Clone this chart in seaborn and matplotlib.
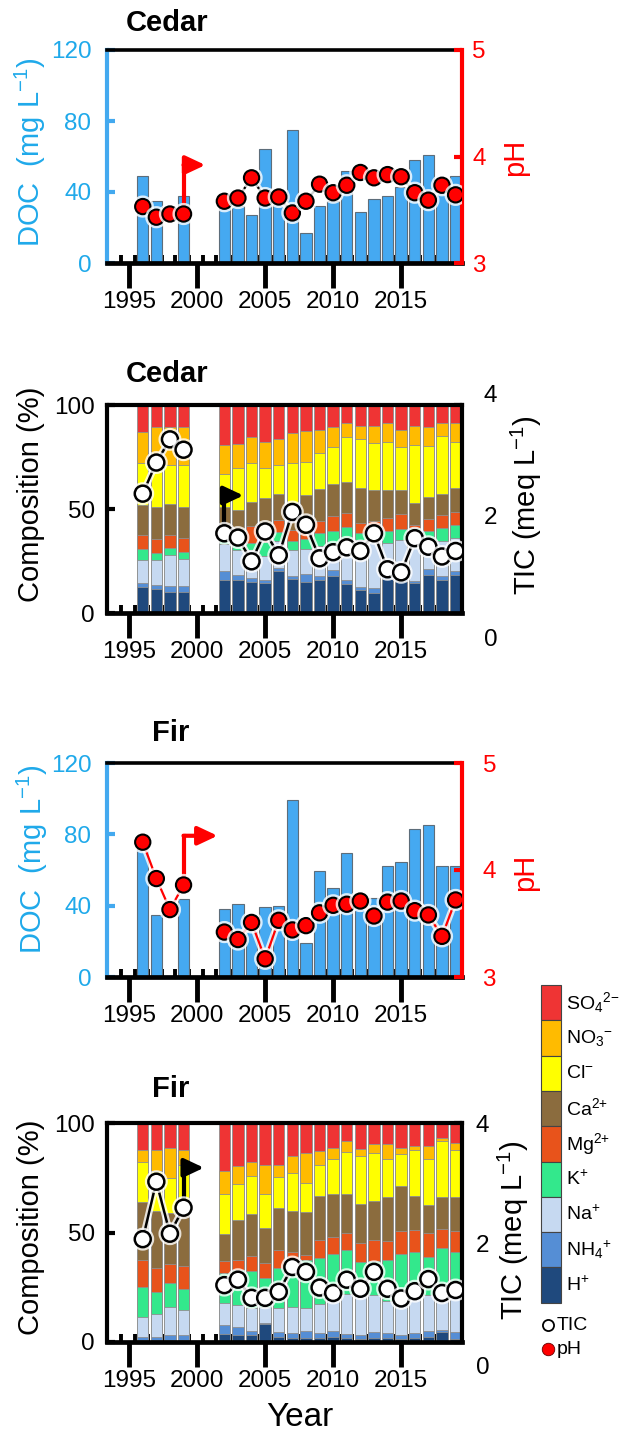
import numpy as np
import pandas as pd
import matplotlib
matplotlib.use("Agg")
import matplotlib.pyplot as plt
import matplotlib.patheffects as pe
from matplotlib.patches import Rectangle
import seaborn as sns

# ---------------- data ----------------
YEARS = [1996, 1997, 1998, 1999, 2002, 2003, 2004, 2005, 2006, 2007, 2008,
         2009, 2010, 2011, 2012, 2013, 2014, 2015, 2016, 2017, 2018, 2019]
XTICKS = [1995, 2000, 2005, 2010, 2015]

CEDAR_DOC = [49, 35, np.nan, 38, 31, 32, 27, 64, 37, 75, 17, 32, 35, 52, 29,
             36, 38, 43, 58, 61, 44, 49]
CEDAR_PH = [3.53, 3.43, 3.46, 3.46, 3.58, 3.61, 3.80, 3.61, 3.62, 3.47, 3.58,
            3.74, 3.66, 3.73, 3.85, 3.80, 3.83, 3.81, 3.66, 3.59, 3.73, 3.64]
FIR_DOC = [72, 35, np.nan, 43.5, 38, 41, 31, 39, 40, 99, 19.3, 59.3, 50, 69.5,
           43, 44.5, 62.5, 64.5, 83, 85, 62, 62.5]
FIR_PH = [4.26, 3.92, 3.63, 3.86, 3.42, 3.35, 3.51, 3.17, 3.53, 3.44, 3.48,
          3.60, 3.67, 3.68, 3.71, 3.57, 3.70, 3.71, 3.62, 3.58, 3.38, 3.72]

CEDAR_TIC = [2.35, 2.86, 3.24, 3.07, 1.70, 1.63, 1.24, 1.73, 1.34, 2.05, 1.84,
             1.29, 1.39, 1.47, 1.41, 1.70, 1.11, 1.06, 1.62, 1.48, 1.32, 1.41]
FIR_TIC = [2.08, 3.03, 2.17, 2.60, 1.32, 1.41, 1.11, 1.11, 1.21, 1.62, 1.54,
           1.28, 1.19, 1.41, 1.26, 1.54, 1.26, 1.10, 1.22, 1.42, 1.19, 1.24]

# ion composition (%), bottom to top
ION_LABELS = ["H$^{{+}}$", "NH$_4$$^{{+}}$", "Na$^{{+}}$", "K$^{{+}}$",
              "Mg$^{2{+}}$", "Ca$^{2{+}}$", "Cl$^{{-}}$", "NO$_3$$^{{-}}$",
              "SO$_4$$^{2{-}}$"]
ION_COLORS = ["#1f497d", "#558ed5", "#c6d9f1", "#33e88c", "#e8531b",
              "#8b6c3e", "#ffff00", "#ffbb00", "#ef3434"]

CEDAR_H = [12.3, 11.5, 10.1, 10.1, 16.0, 16.0, 14.7, 14.4, 20.3, 16.5, 14.9,
           16.0, 17.6, 14.1, 11.2, 9.6, 16.5, 15.2, 14.4, 18.4, 16.0, 18.1]
CEDAR_NH4 = [2.1, 2.1, 2.7, 2.7, 4.0, 2.4, 2.1, 1.6, 1.3, 1.4, 4.0, 2.0, 2.9,
             1.9, 1.1, 2.2, 1.1, 1.1, 0.8, 2.9, 1.6, 1.9]
CEDAR_NA = [11.2, 11.7, 14.9, 13.1, 13.0, 12.0, 13.6, 11.2, 12.8, 12.5, 12.0,
            14.0, 12.3, 18.4, 22.9, 23.4, 16.0, 18.9, 20.5, 13.9, 16.8, 16.0]
CEDAR_K = [5.1, 3.5, 3.5, 3.4, 3.0, 3.6, 3.2, 6.8, 4.5, 4.0, 4.8, 6.4, 6.7,
           6.9, 3.2, 4.3, 5.9, 5.1, 5.1, 4.0, 6.4, 6.4]
CEDAR_MG = [6.6, 6.7, 6.4, 6.7, 3.0, 3.0, 8.0, 8.0, 5.9, 5.6, 4.3, 5.6, 6.9,
            6.7, 4.8, 4.5, 6.1, 7.4, 1.6, 5.8, 6.1, 6.1]
CEDAR_CA = [14.7, 15.7, 14.7, 15.2, 12.0, 12.3, 12.0, 13.2, 12.5, 12.8, 16.8,
            15.5, 15.6, 14.9, 17.1, 14.9, 13.6, 11.5, 10.7, 10.7, 10.4, 11.8]
CEDAR_CL = [20.0, 20.0, 18.9, 20.0, 16.0, 20.3, 18.7, 14.4, 13.9, 19.2, 16.0,
            17.5, 17.7, 21.6, 23.2, 22.7, 23.2, 20.8, 27.7, 24.8, 27.8, 22.1]
CEDAR_NO3 = [15.2, 18.1, 18.4, 18.1, 14.0, 11.7, 12.2, 12.8, 12.3, 14.7, 14.9,
             11.0, 9.9, 6.7, 6.5, 8.4, 8.8, 8.0, 9.2, 8.8, 6.4, 9.1]
CEDAR_SO4 = [12.8, 10.7, 10.4, 10.7, 19.0, 18.7, 15.5, 17.6, 16.5, 13.3, 12.3,
             12.0, 10.4, 8.8, 10.0, 10.0, 8.8, 12.0, 10.0, 10.7, 8.5, 8.5]

FIR_H = [1.0, 1.0, 1.0, 1.0, 3.8, 3.0, 3.0, 8.0, 2.5, 2.0, 2.0, 2.0, 2.5, 2.0,
         1.5, 2.0, 2.0, 1.5, 2.0, 2.5, 4.5, 1.5]
FIR_NH4 = [1.5, 1.5, 2.3, 2.0, 3.9, 3.8, 2.2, 0.6, 2.0, 2.2, 3.0, 2.2, 2.5,
           1.5, 1.5, 2.5, 2.0, 1.5, 2.0, 2.5, 1.0, 3.0]
FIR_NA = [9.0, 10.1, 12.8, 11.4, 9.9, 10.0, 10.1, 7.4, 10.8, 11.8, 10.3, 13.0,
          14.1, 18.3, 18.4, 16.9, 14.5, 17.0, 18.0, 16.4, 16.3, 17.5]
FIR_K = [13.8, 10.1, 10.7, 9.9, 13.8, 16.0, 17.1, 13.0, 18.3, 21.0, 22.2, 21.0,
         21.0, 20.3, 15.0, 15.7, 19.0, 20.3, 19.1, 17.6, 21.0, 19.0]
FIR_MG = [12.0, 11.0, 8.8, 10.2, 5.7, 4.6, 7.0, 6.9, 8.4, 4.0, 2.0, 8.3, 7.9,
          7.6, 8.7, 9.6, 8.4, 10.5, 10.1, 10.7, 8.6, 9.5]
FIR_CA = [26.6, 26.0, 23.4, 29.5, 12.4, 18.5, 19.1, 16.3, 19.1, 18.6, 20.0,
          20.0, 19.5, 17.8, 17.7, 17.9, 20.3, 20.3, 15.5, 12.7, 14.7, 15.5]
FIR_CL = [18.1, 18.6, 15.7, 17.0, 18.0, 16.1, 17.1, 15.3, 14.2, 17.4, 13.0,
          14.5, 16.1, 19.2, 22.1, 21.7, 17.2, 14.9, 20.9, 21.3, 25.7, 21.6]
FIR_NO3 = [5.7, 9.4, 13.8, 6.7, 10.7, 8.2, 6.8, 13.1, 5.3, 7.8, 13.7, 6.2, 4.8,
           4.9, 3.0, 3.9, 7.2, 2.5, 2.0, 5.6, 1.2, 3.4]
FIR_SO4 = [12.3, 12.3, 11.5, 12.3, 21.8, 19.8, 17.6, 19.4, 19.4, 15.2, 13.8,
           12.8, 11.6, 8.4, 12.1, 9.8, 9.4, 11.5, 10.4, 10.7, 7.0, 9.0]

# change-of-method arrows: (year, corner height, end year)
CEDAR_PH_ARROW = (1999, 3.92, 2000.6)
FIR_PH_ARROW = (1999, 4.32, 2001.5)
CEDAR_TIC_ARROW = (2002, 2.32, 2003.4)
FIR_TIC_ARROW = (1999, 3.26, 2000.5)

# ---------------- style ----------------
sns.set_style("ticks")
plt.rcParams["font.family"] = ["Liberation Sans", "DejaVu Sans"]
plt.rcParams["mathtext.fontset"] = "custom"
plt.rcParams["mathtext.rm"] = "Liberation Sans"
plt.rcParams["mathtext.default"] = "regular"
for key in ["text.color", "axes.labelcolor", "xtick.color", "ytick.color",
            "axes.edgecolor"]:
    plt.rcParams[key] = "black"

FIG_W, FIG_H = 627, 1434
AX_L, AX_R = 106.7, 461.7
XMIN, XMAX = 1993.35, 2019.45
TICK_FS, LABEL_FS, TITLE_FS = 17.5, 21, 21
BAR_BLUE = "#45a9f1"
BLUE_SPINE = "#43a9ef"
BLUE_TXT = "#1fa9ea"
RED = "#ff0000"
GLOW = [pe.withStroke(linewidth=5, foreground=(1, 1, 1, 0.8))]

fig = plt.figure(figsize=(FIG_W / 100, FIG_H / 100), dpi=100)


def rect_px(l, t, r, b):
    return [l / FIG_W, 1 - b / FIG_H, (r - l) / FIG_W, (b - t) / FIG_H]


def ftext(x, y, s, **kw):
    fig.text(x / FIG_W, 1 - y / FIG_H, s, **kw)


def style_x(ax):
    ax.set_xlim(XMIN, XMAX)
    ax.set_xticks(XTICKS)
    ax.set_xticks(np.arange(1994.4, 2019.5, 1.0), minor=True)
    ax.tick_params(axis="x", which="major", direction="out", length=18,
                   width=3.5, pad=2.5, labelsize=TICK_FS, color="black",
                   labelcolor="black")
    ax.tick_params(axis="x", which="minor", direction="in", length=6,
                   width=2.8, color="black")
    ax.set_xlabel("")


def draw_arrow(ax, start_y, spec, color):
    x0, ytop, xend = spec
    ax.plot([x0, x0], [start_y, ytop], color=color, lw=3,
            solid_capstyle="projecting", zorder=2)
    ax.annotate("", xy=(xend, ytop), xytext=(x0, ytop),
                arrowprops=dict(arrowstyle="-|>,head_length=0.85,head_width=0.4",
                                color=color, lw=3, shrinkA=0, shrinkB=0,
                                mutation_scale=14), zorder=2)


def segments(vals):
    yrs = np.array(YEARS)
    v = np.array(vals, dtype=float)
    return [(yrs[yrs < 2000], v[yrs < 2000]), (yrs[yrs > 2000], v[yrs > 2000])]


def doc_panel(top, bottom, doc, ph, line_color, arrow, ph_pad):
    ax = fig.add_axes(rect_px(AX_L, top, AX_R, bottom))
    df = pd.DataFrame({"Year": YEARS, "DOC": doc}).dropna()
    sns.barplot(data=df, x="Year", y="DOC", native_scale=True, color=BAR_BLUE,
                saturation=1, width=0.84, edgecolor="#5d6d7a", linewidth=0.8,
                errorbar=None, ax=ax)
    ax.set_ylabel("")
    style_x(ax)
    ax.set_ylim(0, 120)
    ax.set_yticks([0, 40, 80, 120])
    ax.tick_params(axis="y", direction="in", length=6, width=3,
                   color=BLUE_SPINE, labelcolor=BLUE_TXT, labelsize=TICK_FS,
                   pad=11)
    ax.spines["left"].set(color=BLUE_SPINE, linewidth=3)
    ax.spines["top"].set(color="black", linewidth=2.6)
    ax.spines["bottom"].set(color="black", linewidth=3.4)
    ax.spines["right"].set_visible(False)

    tw = ax.twinx()
    tw.set_ylim(3, 5)
    tw.set_yticks([3, 4, 5])
    tw.tick_params(axis="y", direction="in", length=6, width=3, color=RED,
                   labelcolor=RED, labelsize=TICK_FS, pad=ph_pad)
    for s in ["left", "top", "bottom"]:
        tw.spines[s].set_visible(False)
    tw.spines["right"].set(color=RED, linewidth=3)
    ph_arr = dict(zip(YEARS, ph))
    draw_arrow(tw, ph_arr[arrow[0]], arrow, RED)
    for xs, ys in segments(ph):
        tw.plot(xs, ys, color=line_color, lw=1.6, marker="o", ms=11,
                mfc=RED, mec="black", mew=1.5, path_effects=GLOW, zorder=3)
    return ax


def comp_panel(top, bottom, tic_top, tic_bottom, layers, tic, arrow, tic_pad):
    ax = fig.add_axes(rect_px(AX_L, top, AX_R, bottom))
    cum = np.cumsum(np.array(layers, dtype=float), axis=0)
    for i in range(len(layers) - 1, -1, -1):
        df = pd.DataFrame({"Year": YEARS, "v": cum[i]})
        sns.barplot(data=df, x="Year", y="v", native_scale=True,
                    color=ION_COLORS[i], saturation=1, width=0.84,
                    edgecolor="#8f8f8f", linewidth=0.6, errorbar=None, ax=ax)
    ax.set_ylabel("")
    style_x(ax)
    ax.set_ylim(0, 100)
    ax.set_yticks([0, 50, 100])
    ax.tick_params(axis="y", direction="in", length=6, width=3, left=True,
                   right=True, labelright=False, color="black",
                   labelcolor="black", labelsize=TICK_FS, pad=8.5)
    for s in ["left", "right", "top"]:
        ax.spines[s].set(color="black", linewidth=3)
    ax.spines["bottom"].set(color="black", linewidth=3.4)

    t = fig.add_axes(rect_px(AX_L, tic_top, AX_R, tic_bottom), sharex=ax)
    t.patch.set_visible(False)
    for s in t.spines.values():
        s.set_visible(False)
    t.xaxis.set_visible(False)
    t.yaxis.tick_right()
    t.set_ylim(0, 4)
    t.set_yticks([0, 2, 4])
    t.tick_params(axis="y", length=0, labelsize=TICK_FS, pad=tic_pad,
                  left=False, right=True, labelleft=False, labelright=True,
                  labelcolor="black")
    tic_arr = dict(zip(YEARS, tic))
    draw_arrow(t, tic_arr[arrow[0]], arrow, "black")
    for xs, ys in segments(tic):
        t.plot(xs, ys, color="black", lw=1.8, marker="o", ms=11.5,
               mfc="white", mec="black", mew=1.8, path_effects=GLOW, zorder=3)
    return ax


CEDAR_LAYERS = [CEDAR_H, CEDAR_NH4, CEDAR_NA, CEDAR_K, CEDAR_MG, CEDAR_CA,
                CEDAR_CL, CEDAR_NO3, CEDAR_SO4]
FIR_LAYERS = [FIR_H, FIR_NH4, FIR_NA, FIR_K, FIR_MG, FIR_CA, FIR_CL, FIR_NO3,
              FIR_SO4]

doc_panel(50, 263, CEDAR_DOC, CEDAR_PH, "black", CEDAR_PH_ARROW, 7.5)
comp_panel(405, 613, 393, 637, CEDAR_LAYERS, CEDAR_TIC, CEDAR_TIC_ARROW, 16)
doc_panel(763, 977, FIR_DOC, FIR_PH, RED, FIR_PH_ARROW, 15)
comp_panel(1123, 1342, 1123, 1365, FIR_LAYERS, FIR_TIC, FIR_TIC_ARROW, 10)

# titles and axis labels
for (x, y, s) in [(167, 23, "Cedar"), (167, 374, "Cedar"), (171, 733, "Fir"),
                  (171, 1089, "Fir")]:
    ftext(x, y, s, ha="center", va="center", fontsize=TITLE_FS,
          fontweight="bold", color="black")

ftext(30, 152, "DOC  (mg L$^{-1}$)", rotation=90, ha="center", va="center",
      fontsize=LABEL_FS, color=BLUE_TXT)
ftext(32, 859, "DOC  (mg L$^{-1}$)", rotation=90, ha="center", va="center",
      fontsize=LABEL_FS, color=BLUE_TXT)
ftext(515, 157, "pH", rotation=90, ha="center", va="center",
      fontsize=LABEL_FS, color=RED)
ftext(525, 872, "pH", rotation=90, ha="center", va="center",
      fontsize=LABEL_FS, color=RED)
ftext(31, 494, "Composition (%)", rotation=90, ha="center", va="center",
      fontsize=LABEL_FS)
ftext(31, 1227, "Composition (%)", rotation=90, ha="center", va="center",
      fontsize=LABEL_FS)
ftext(526, 505, "TIC (meq L$^{-1}$)", rotation=90, ha="center", va="center",
      fontsize=LABEL_FS)
ftext(513, 1230, "TIC (meq L$^{-1}$)", rotation=90, ha="center", va="center",
      fontsize=LABEL_FS)
ftext(300, 1418, "Year", ha="center", va="center", fontsize=24)

# legend
lg = fig.add_axes([0, 0, 1, 1])
lg.set_xlim(0, FIG_W)
lg.set_ylim(FIG_H, 0)
lg.axis("off")
LEG_X, LEG_TOP, LEG_W, LEG_H = 541, 985, 20, 35.3
for k, (lab, col) in enumerate(zip(ION_LABELS[::-1], ION_COLORS[::-1])):
    y0 = LEG_TOP + k * LEG_H
    lg.add_patch(Rectangle((LEG_X, y0), LEG_W, LEG_H, facecolor=col,
                           edgecolor="#444444", lw=0.8))
    lg.text(LEG_X + LEG_W + 5, y0 + LEG_H / 2, lab, ha="left", va="center",
            fontsize=14)
lg.plot([547.5], [1325], "o", ms=8, mfc="white", mec="black", mew=1.3)
lg.text(557, 1325, "TIC", ha="left", va="center", fontsize=14)
lg.plot([547.5], [1349], "o", ms=9, mfc=RED, mec="#660000", mew=0.6)
lg.text(557, 1349, "pH", ha="left", va="center", fontsize=14)

fig.savefig("out.png", dpi=100)
